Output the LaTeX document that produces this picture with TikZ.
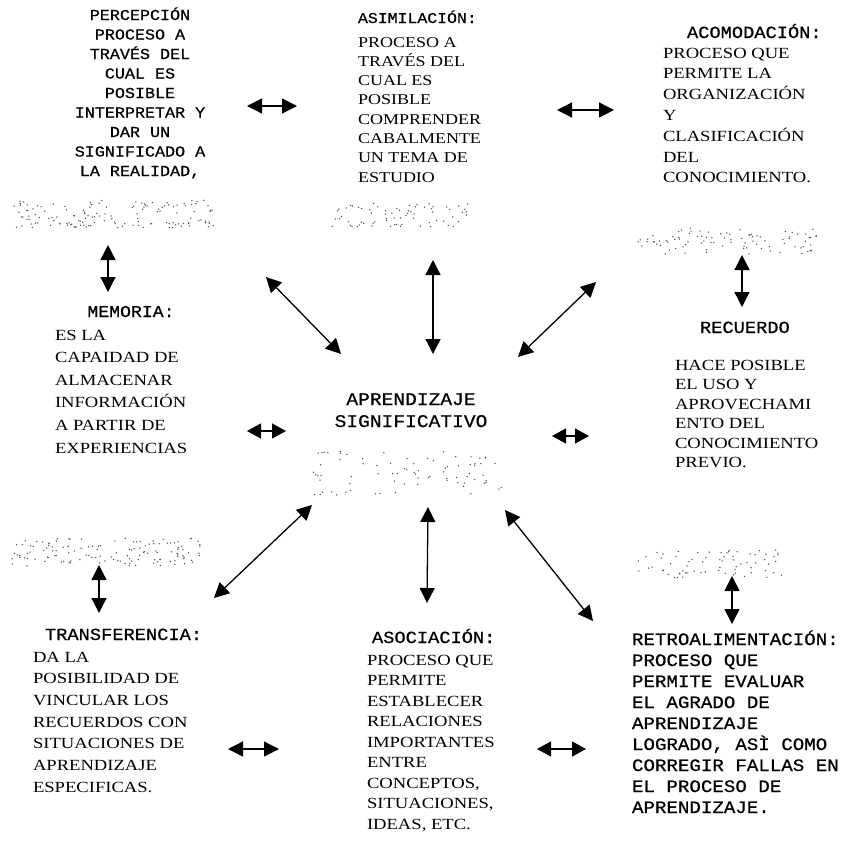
\documentclass[tikz,border=0pt]{standalone}
\usepackage{fontspec}
\usetikzlibrary{arrows.meta}
\newfontfamily\tw[FakeStretch=1.1,FakeBold=0.6]{Liberation Mono}
\newfontfamily\tr[FakeStretch=1.2]{Liberation Serif}
\newcommand{\colL}[1]{\begin{tabular}[t]{@{}l@{}}#1\end{tabular}}
\newcommand{\colC}[1]{\begin{tabular}[t]{@{}c@{}}#1\end{tabular}}
\newcommand{\band}[5]{\foreach \k in {1,...,#5}{\pgfmathsetmacro\px{#1+rnd*#3}\pgfmathsetmacro\py{#2+rnd*#4}\fill[speck] (\px pt,-\py pt) circle (0.75pt);}}
\begin{document}
\begin{tikzpicture}[x=1pt,y=-1pt,
  txt/.style={inner sep=0pt, outer sep=0pt, anchor=base west},
  txtc/.style={inner sep=0pt, outer sep=0pt, anchor=base},
  dbl/.style={line width=1.3pt, {Triangle[length=15pt,width=15pt]}-{Triangle[length=15pt,width=15pt]}},
  dbls/.style={line width=1.3pt, {Triangle[length=14pt,width=15pt]}-{Triangle[length=14pt,width=15pt]}},
  speck/.style={fill=black!70}]
\fill[white] (0,0) rectangle (847,849);
\useasboundingbox (0,0) rectangle (847,849);

% ---------- noise bands (faded scanned shapes) ----------
\pgfmathsetseed{12}
\band{12}{200}{205}{28}{140}
\band{330}{203}{140}{24}{70}
\band{637}{228}{180}{26}{90}
\band{312}{450}{190}{45}{80}
\band{10}{538}{190}{28}{130}
\band{637}{550}{145}{28}{70}

% ---------- texts ----------
\node[txtc, font=\tw\fontsize{15.2}{19.5}\selectfont] (perc) at (140,20)
  {\colC{PERCEPCIÓN\\PROCESO A\\TRAVÉS DEL\\CUAL ES\\POSIBLE\\INTERPRETAR Y\\DAR UN\\SIGNIFICADO A\\LA REALIDAD,}};

\node[txt, font=\tw\fontsize{15}{19}\selectfont] (asimh) at (358,23) {ASIMILACIÓN:};
\node[txt, font=\tr\fontsize{15}{19.3}\selectfont] (asim) at (358,47)
  {\colL{PROCESO A\\TRAVÉS DEL\\CUAL ES\\POSIBLE\\COMPRENDER\\CABALMENTE\\UN TEMA DE\\ESTUDIO}};

\node[txt, font=\tw\fontsize{17}{20}\selectfont] (acomh) at (687,38) {ACOMODACIÓN:};
\node[txt, font=\tr\fontsize{15.5}{20.8}\selectfont] (acom) at (663,58)
  {\colL{PROCESO QUE\\PERMITE LA\\ORGANIZACIÓN\\Y\\CLASIFICACIÓN\\DEL\\CONOCIMIENTO.}};

\node[txtc, font=\tw\fontsize{16.5}{20}\selectfont] (memh) at (131,317) {MEMORIA:};
\node[txt, font=\tr\fontsize{15.5}{22.6}\selectfont] (mem) at (55,340)
  {\colL{ES LA\\CAPAIDAD DE\\ALMACENAR\\INFORMACIÓN\\A PARTIR DE\\EXPERIENCIAS}};

\node[txt, font=\tw\fontsize{17}{20}\selectfont] (rech) at (700,333) {RECUERDO};
\node[txt, font=\tr\fontsize{15.5}{19.5}\selectfont] (rec) at (675,370)
  {\colL{HACE POSIBLE\\EL USO Y\\APROVECHAMI\\ENTO DEL\\CONOCIMIENTO\\PREVIO.}};

\node[txtc, font=\tw\fontsize{17.8}{22}\selectfont] (centro) at (411,405)
  {\colC{APRENDIZAJE\\SIGNIFICATIVO}};

\node[txt, font=\tw\fontsize{17}{20}\selectfont] (trah) at (45,640) {TRANSFERENCIA:};
\node[txt, font=\tr\fontsize{15.5}{21.7}\selectfont] (tra) at (33,662)
  {\colL{DA LA\\POSIBILIDAD DE\\VINCULAR LOS\\RECUERDOS CON\\SITUACIONES DE\\APRENDIZAJE\\ESPECIFICAS.}};

\node[txt, font=\tw\fontsize{17}{20}\selectfont] (asoh) at (372,643) {ASOCIACIÓN:};
\node[txt, font=\tr\fontsize{15.5}{20.5}\selectfont] (aso) at (367,665)
  {\colL{PROCESO QUE\\PERMITE\\ESTABLECER\\RELACIONES\\IMPORTANTES\\ENTRE\\CONCEPTOS,\\SITUACIONES,\\IDEAS, ETC.}};

\node[txt, font=\tw\fontsize{17.4}{21}\selectfont] (retro) at (632,645)
  {\colL{RETROALIMENTACIÓN:\\PROCESO QUE\\PERMITE EVALUAR\\EL AGRADO DE\\APRENDIZAJE\\LOGRADO, ASÌ COMO\\CORREGIR FALLAS EN\\EL PROCESO DE\\APRENDIZAJE.}};

% ---------- arrow end points ----------
\coordinate (h1a) at (247,106); \coordinate (h1b) at (297,106);
\coordinate (h2a) at (557,110); \coordinate (h2b) at (614,110);
\coordinate (h3a) at (247,431); \coordinate (h3b) at (286,431);
\coordinate (h4a) at (552,436); \coordinate (h4b) at (589,436);
\coordinate (h5a) at (228,749); \coordinate (h5b) at (279,749);
\coordinate (h6a) at (537,749); \coordinate (h6b) at (586,749);

\coordinate (v1a) at (108,245); \coordinate (v1b) at (108,292);
\coordinate (v2a) at (433,260); \coordinate (v2b) at (433,354);
\coordinate (v3a) at (742,255); \coordinate (v3b) at (742,307);
\coordinate (v4a) at (99,565);  \coordinate (v4b) at (99,613);
\coordinate (v5a) at (428,507); \coordinate (v5b) at (427,603);
\coordinate (v6a) at (732,576); \coordinate (v6b) at (732,624);

\coordinate (d1a) at (266,277); \coordinate (d1b) at (341,354);
\coordinate (d2a) at (596,282); \coordinate (d2b) at (518,357);
\coordinate (d3a) at (312,505); \coordinate (d3b) at (214,598);
\coordinate (d4a) at (505,510); \coordinate (d4b) at (593,621);

% ---------- arrows ----------
\foreach \n in {h1,h2,h5,v1,v2,v3,v4,v5,v6,d1,d2,d3,d4}{\draw[dbl] (\n a) -- (\n b);}
\foreach \n in {h3,h4,h6}{\draw[dbls] (\n a) -- (\n b);}
\end{tikzpicture}
\end{document}
